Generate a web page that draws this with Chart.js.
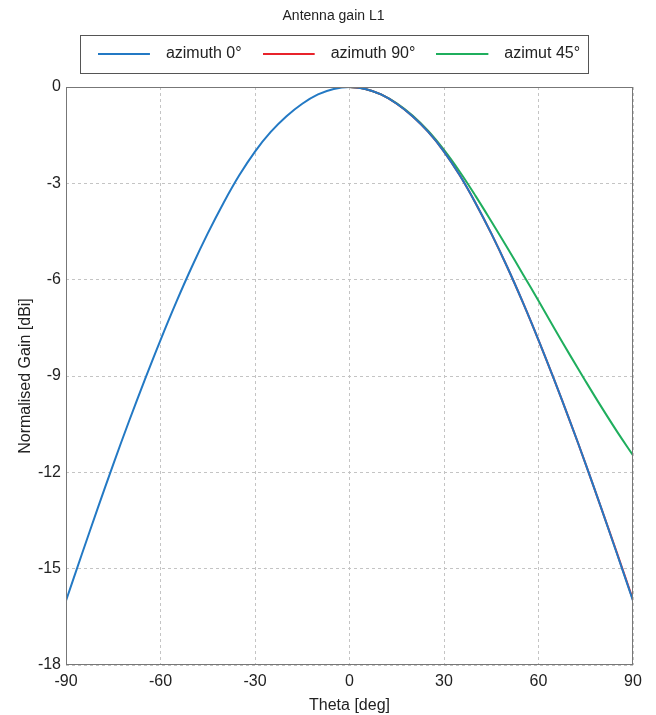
<!DOCTYPE html>
<html>
<head>
<meta charset="utf-8">
<script src="https://cdn.jsdelivr.net/npm/chart.js@4.4.1/dist/chart.umd.min.js"></script>
<style>
  html, body { margin: 0; padding: 0; background: #fff; }
  #wrap { width: 656px; height: 715px; }
</style>
</head>
<body>
<div id="wrap"><canvas id="gainChart"></canvas></div>
<script>
// theta in degrees, gain in dBi (normalised)
const thetaFull = [-90, -85, -80, -75, -70, -65, -60, -55, -50, -45, -40, -35, -30, -25, -20, -15, -10, -5,
                   0, 5, 10, 15, 20, 25, 30, 35, 40, 45, 50, 55, 60, 65, 70, 75, 80, 85, 90];
const gainAz0 = [-16.0, -14.56, -13.14, -11.75, -10.41, -9.12, -7.88, -6.7, -5.59, -4.56, -3.61, -2.75, -2.01, -1.4, -0.91, -0.52, -0.23, -0.06,
                 0, -0.06, -0.23, -0.52, -0.91, -1.4, -2.01, -2.75, -3.61, -4.56, -5.59, -6.7, -7.88, -9.12, -10.41, -11.75, -13.14, -14.56, -16.0];

const thetaHalf = [0, 5, 10, 15, 20, 25, 30, 35, 40, 45, 50, 55, 60, 65, 70, 75, 80, 85, 90];
const gainAz90 = [0, -0.06, -0.23, -0.52, -0.91, -1.4, -2.01, -2.75, -3.61, -4.56, -5.59, -6.7, -7.88, -9.12, -10.41, -11.75, -13.14, -14.54, -15.97];
const gainAz45 = [0, -0.06, -0.23, -0.51, -0.89, -1.37, -1.96, -2.64, -3.39, -4.18, -4.99, -5.82, -6.66, -7.51, -8.35, -9.17, -9.97, -10.74, -11.47];

const seriesLabels = ['azimuth 0°', 'azimuth 90°', 'azimut 45°'];
const seriesColors = ['#2379c4', '#e8232b', '#1fae5d'];

const xTicks = [-90, -60, -30, 0, 30, 60, 90];
const yTicks = [-18, -15, -12, -9, -6, -3, 0];

function toPoints(xs, ys) {
  return xs.map(function (x, i) { return { x: x, y: ys[i] }; });
}

// legend sample: a short line with some empty room after it
function legendLine(color) {
  const c = document.createElement('canvas');
  c.width = 60;
  c.height = 4;
  const g = c.getContext('2d');
  g.strokeStyle = color;
  g.lineWidth = 2;
  g.beginPath();
  g.moveTo(0, 2);
  g.lineTo(52, 2);
  g.stroke();
  return c;
}

// title and legend sit a bit right of the full width centre
const shiftPlugin = {
  id: 'shiftTop',
  afterLayout: function (chart) {
    chart.titleBlock.left += 17;
    chart.titleBlock.right += 17;
    chart.legend.left += 22.5;
    chart.legend.right += 22.5;
  }
};

// frame round the plot and round the legend
const framePlugin = {
  id: 'frames',
  afterDraw: function (chart) {
    const ctx = chart.ctx;
    const a = chart.chartArea;
    ctx.save();
    ctx.strokeStyle = '#777';
    ctx.lineWidth = 1;
    ctx.strokeRect(Math.round(a.left) + 0.5, Math.round(a.top) + 0.5,
                   Math.round(a.right - a.left) - 1, Math.round(a.bottom - a.top) - 1);

    const boxes = chart.legend.legendHitBoxes;
    if (boxes && boxes.length) {
      let l = Infinity, r = -Infinity;
      boxes.forEach(function (b) {
        l = Math.min(l, b.left);
        r = Math.max(r, b.left + b.width);
      });
      const cy = boxes[0].top + boxes[0].height / 2;
      ctx.strokeStyle = '#555';
      ctx.strokeRect(Math.round(l - 18) + 0.5, Math.round(cy - 19) + 0.5,
                     Math.round(r - l + 26), 38);
    }
    ctx.restore();
  }
};

Chart.defaults.font.family = '"Liberation Sans", Arial, sans-serif';
Chart.defaults.color = '#222';

new Chart('gainChart', {
  type: 'line',
  data: {
    datasets: [{
      label: seriesLabels[0],
      data: toPoints(thetaFull, gainAz0),
      borderColor: seriesColors[0],
      backgroundColor: seriesColors[0],
      pointStyle: legendLine(seriesColors[0])
    }, {
      label: seriesLabels[1],
      data: toPoints(thetaHalf, gainAz90),
      borderColor: seriesColors[1],
      backgroundColor: seriesColors[1],
      pointStyle: legendLine(seriesColors[1])
    }, {
      label: seriesLabels[2],
      data: toPoints(thetaHalf, gainAz45),
      borderColor: seriesColors[2],
      backgroundColor: seriesColors[2],
      pointStyle: legendLine(seriesColors[2])
    }]
  },
  options: {
    animation: false,
    responsive: true,
    maintainAspectRatio: false,
    layout: { padding: { left: 0, right: 23, top: 0, bottom: 0 } },
    elements: {
      point: { radius: 0 },
      line: { borderWidth: 2, fill: false, tension: 0.4 }
    },
    plugins: {
      title: {
        display: true,
        text: 'Antenna gain L1',
        font: { size: 14, weight: 'normal' },
        padding: { top: 7.6, bottom: 0.6 }
      },
      legend: {
        labels: {
          usePointStyle: true,
          pointStyleWidth: 60,
          padding: 21,
          font: { size: 16 }
        }
      },
      subtitle: {
        display: true,
        text: '',
        weight: 500,
        font: { size: 10 },
        padding: { top: 3, bottom: 0 }
      },
      tooltip: { enabled: false }
    },
    scales: {
      x: {
        type: 'linear',
        min: -90,
        max: 90,
        afterBuildTicks: function (s) { s.ticks = xTicks.map(function (v) { return { value: v }; }); },
        afterFit: function (s) { s.height = 50; },
        grid: { color: '#c4c4c4', drawTicks: false },
        border: { display: false, dash: [3, 3] },
        ticks: { padding: 7, font: { size: 16 }, maxRotation: 0 },
        title: { display: true, text: 'Theta [deg]', font: { size: 16 }, padding: { top: 0, bottom: 0 } }
      },
      y: {
        min: -18,
        max: 0,
        afterBuildTicks: function (s) { s.ticks = yTicks.map(function (v) { return { value: v }; }); },
        afterFit: function (s) { s.width = 66; },
        grid: { color: '#c4c4c4', drawTicks: false },
        border: { display: false, dash: [3, 3] },
        ticks: { padding: 5, font: { size: 16 } },
        title: { display: true, text: 'Normalised Gain [dBi]', font: { size: 16 }, padding: { top: 16, bottom: 0 } }
      }
    }
  },
  plugins: [shiftPlugin, framePlugin]
});
</script>
</body>
</html>
